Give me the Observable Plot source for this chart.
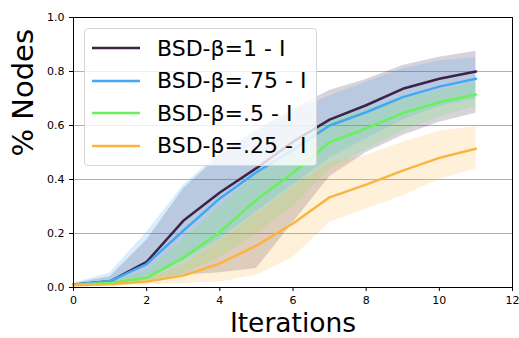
<!DOCTYPE html>
<html>
<head>
<meta charset="utf-8">
<script src="https://cdn.jsdelivr.net/npm/d3@7"></script>
<script src="https://cdn.jsdelivr.net/npm/@observablehq/plot@0.6"></script>
<style>
  html, body { margin: 0; padding: 0; background: #fff; }
  #chart { position: relative; width: 519px; height: 338px; font-family: "DejaVu Sans", sans-serif; }
  #legend {
    position: absolute; left: 84px; top: 28px; width: 231px; height: 136px;
    background: rgba(255,255,255,0.8); border: 1px solid #d6d6d6; border-radius: 4px;
    box-sizing: content-box;
  }
  .row { position: absolute; left: 0; height: 32px; display: flex; align-items: center; }
  .row svg { margin-left: 7px; }
  .row span { margin-left: 17px; font-size: 22px; color: #000; white-space: nowrap; }
</style>
</head>
<body>
<div id="chart"><div id="legend"></div></div>
<script>
// Spread of infected nodes per iteration, one series per β setting
const iterations = [0, 1, 2, 3, 4, 5, 6, 7, 8, 9, 10, 11];
const seriesNames = ["BSD-β=1 - I", "BSD-β=.75 - I", "BSD-β=.5 - I", "BSD-β=.25 - I"];
const seriesColors = ["#3c2449", "#3fa9f5", "#66f25a", "#fbb53f"];

const meanBeta100 = [0.010, 0.023, 0.095, 0.247, 0.352, 0.442, 0.540, 0.622, 0.675, 0.736, 0.773, 0.800];
const meanBeta075 = [0.010, 0.024, 0.087, 0.210, 0.330, 0.427, 0.510, 0.600, 0.649, 0.705, 0.744, 0.773];
const meanBeta050 = [0.010, 0.017, 0.036, 0.110, 0.205, 0.325, 0.425, 0.538, 0.589, 0.646, 0.686, 0.715];
const meanBeta025 = [0.008, 0.012, 0.022, 0.044, 0.089, 0.155, 0.237, 0.334, 0.381, 0.433, 0.480, 0.514];

const lowBeta100 = [0.005, 0.012, 0.025, 0.045, 0.055, 0.070, 0.240, 0.410, 0.500, 0.563, 0.612, 0.645];
const highBeta100 = [0.015, 0.040, 0.175, 0.365, 0.490, 0.580, 0.660, 0.730, 0.770, 0.822, 0.853, 0.875];
const lowBeta075 = [0.005, 0.015, 0.040, 0.100, 0.180, 0.280, 0.380, 0.480, 0.550, 0.620, 0.670, 0.700];
const highBeta075 = [0.015, 0.055, 0.205, 0.378, 0.500, 0.585, 0.650, 0.710, 0.760, 0.810, 0.840, 0.852];
const lowBeta050 = [0.005, 0.010, 0.015, 0.050, 0.110, 0.200, 0.300, 0.440, 0.510, 0.580, 0.630, 0.670];
const highBeta050 = [0.015, 0.022, 0.060, 0.180, 0.300, 0.420, 0.520, 0.620, 0.660, 0.700, 0.730, 0.760];
const lowBeta025 = [0.002, 0.005, 0.010, 0.015, 0.020, 0.045, 0.110, 0.242, 0.290, 0.340, 0.400, 0.440];
const highBeta025 = [0.010, 0.016, 0.032, 0.080, 0.170, 0.270, 0.370, 0.460, 0.490, 0.538, 0.579, 0.596];

const xTicks = [0, 2, 4, 6, 8, 10, 12];
const yTicks = [0, 0.2, 0.4, 0.6, 0.8, 1.0];
const gridTicks = [0.2, 0.4, 0.6, 0.8];

const means = [meanBeta100, meanBeta075, meanBeta050, meanBeta025];
const lows = [lowBeta100, lowBeta075, lowBeta050, lowBeta025];
const highs = [highBeta100, highBeta075, highBeta050, highBeta025];

const rows = [];
seriesNames.forEach((name, s) => {
  iterations.forEach((it, i) => {
    rows.push({series: name, iteration: it, mean: means[s][i], low: lows[s][i], high: highs[s][i]});
  });
});

const font = "DejaVu Sans";

const chart = Plot.plot({
  width: 519,
  height: 338,
  marginLeft: 73,
  marginRight: 7,
  marginTop: 17,
  marginBottom: 51,
  style: {fontFamily: font, background: "white", overflow: "visible"},
  x: {domain: [0, 12]},
  y: {domain: [0, 1]},
  color: {domain: seriesNames, range: seriesColors},
  marks: [
    Plot.gridY(gridTicks, {stroke: "#b0b0b0", strokeOpacity: 1, strokeWidth: 1}),
    Plot.areaY(rows, {x: "iteration", y1: "low", y2: "high", z: "series", fill: "series", fillOpacity: 0.2}),
    Plot.line(rows, {x: "iteration", y: "mean", z: "series", stroke: "series", strokeWidth: 2.5}),
    Plot.frame({stroke: "black", strokeWidth: 1}),
    Plot.axisX({ticks: xTicks, tickSize: 4, tickPadding: 5, fontSize: 11, label: null, tickFormat: d3.format("d")}),
    Plot.axisY({ticks: yTicks, tickSize: 4, tickPadding: 5, fontSize: 11, label: null, tickFormat: d3.format(".1f")}),
    Plot.text(["Iterations"], {frameAnchor: "bottom", dy: 36, fontSize: 26.5, fill: "black", lineAnchor: "middle"}),
    Plot.text(["% Nodes"], {frameAnchor: "left", dx: -50, dy: 4, rotate: -90, fontSize: 29, fill: "black", lineAnchor: "middle"})
  ]
});

document.getElementById("chart").prepend(chart);

// Legend box in the upper-left of the plot area
const legend = d3.select("#legend");
seriesNames.forEach((name, i) => {
  const row = legend.append("div").attr("class", "row").style("top", (3 + i * 32.5) + "px");
  const sw = row.append("svg").attr("width", 48).attr("height", 6);
  sw.append("line").attr("x1", 0).attr("x2", 48).attr("y1", 3).attr("y2", 3)
    .attr("stroke", seriesColors[i]).attr("stroke-width", 2.5);
  row.append("span").text(name);
});
</script>
</body>
</html>
